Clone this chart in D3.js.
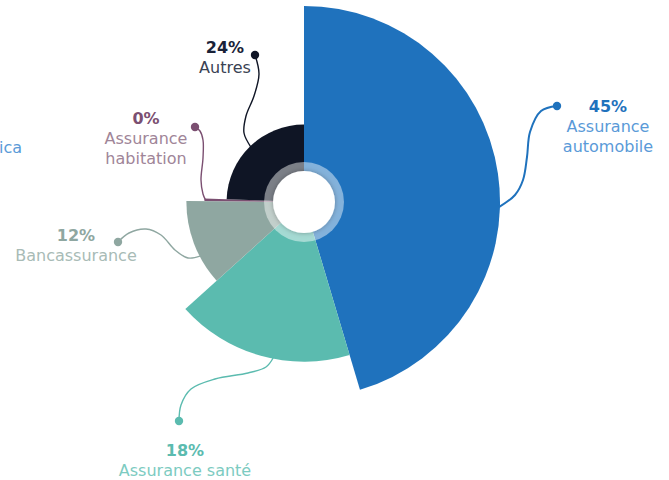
<!DOCTYPE html>
<html><head><meta charset="utf-8">
<script src="https://cdn.jsdelivr.net/npm/d3@7"></script>
<style>
html,body{margin:0;padding:0;background:#fff;}
svg{display:block;}
text{font-family:"DejaVu Sans",sans-serif;}
</style></head>
<body>
<svg id="chart" width="669" height="480"></svg>
<script>
// ---- data ----
const categories = ["Assurance automobile", "Assurance santé", "Bancassurance", "Assurance habitation", "Autres"];
const shares = [45.3, 17.9, 11.8, 0.4, 24.4];          // angular share (%)
const radiusValues = [100, 81.5, 60, 50.8, 39.5];      // radial magnitude
const sliceColors = ["#1f72bd", "#5bbbaf", "#8fa7a1", "#7b4f71", "#0f1525"];
const pctColors = ["#1f72bd", "#5bbbaf", "#8fa7a1", "#7b4f71", "#1a2238"];
const nameColors = ["#5a9ad8", "#7ccbc1", "#a8bbb6", "#a08598", "#3a4253"];
const nameLines = [["Assurance", "automobile"], ["Assurance santé"], ["Bancassurance"], ["Assurance", "habitation"], ["Autres"]];

// ---- layout (label placement, not data) ----
const cx = 304, cy = 202;
const labelLayout = [
  {frac: 0.56, tx: 608, ty: 112, path: [[515,195],[523,180],[527,157],[530,132],[541,111],[557,106]]},
  {frac: 0.43, tx: 185, ty: 456, path: [[266,367],[248,373],[215,379],[191,389],[181,405],[179,421]]},
  {frac: 0.34, tx: 76,  ty: 241, path: [[188,258],[175,250],[161,235],[146,229],[129,233],[118,242]]},
  {frac: 0.5,  tx: 146, ty: 124, path: [[203,194],[201,180],[203,158],[203,140],[200,131],[195,127]]},
  {frac: 0.5,  tx: 225, ty: 53,  path: [[244,133],[246,116],[254,96],[259,74],[255,55]]}
];

const svg = d3.select("#chart");
const g = svg.append("g").attr("transform", `translate(${cx},${cy})`);

const rScale = d3.scaleLinear().domain([0, d3.max(radiusValues)]).range([0, 196]);
const pie = d3.pie().sort(null).value(d => d.share);
const data = categories.map((c, i) => ({cat: c, share: shares[i], rv: radiusValues[i], i}));
const arcs = pie(data);

const defs = svg.append("defs");
const f = defs.append("filter").attr("id", "glow").attr("x", "-50%").attr("y", "-50%").attr("width", "200%").attr("height", "200%");
f.append("feGaussianBlur").attr("stdDeviation", 0.7);
const sh = defs.append("filter").attr("id", "shadow").attr("x", "-50%").attr("y", "-50%").attr("width", "200%").attr("height", "200%");
sh.append("feDropShadow").attr("dx", 0).attr("dy", 0).attr("stdDeviation", 2.5).attr("flood-color", "#000").attr("flood-opacity", 0.3);

// leader lines (under slices)
const line = d3.line().curve(d3.curveCatmullRom.alpha(0.5));
arcs.forEach((a, k) => {
  const L = labelLayout[k];
  const ang = a.startAngle + (a.endAngle - a.startAngle) * L.frac;
  const r = rScale(a.data.rv) - 1;
  const p0 = [cx + r * Math.sin(ang), cy - r * Math.cos(ang)];
  const pts = [p0].concat(L.path);
  svg.append("path").attr("d", line(pts)).attr("fill", "none")
    .attr("stroke", sliceColors[k]).attr("stroke-width", k === 0 ? 2 : 1.4);
  const end = L.path[L.path.length - 1];
  svg.append("circle").attr("cx", end[0]).attr("cy", end[1]).attr("r", 4.2).attr("fill", sliceColors[k]);
});

// slices
g.selectAll("path.slice").data(arcs).join("path").attr("class", "slice")
  .attr("d", d => d3.arc().innerRadius(0).outerRadius(rScale(d.data.rv))(d))
  .attr("fill", d => sliceColors[d.data.i]);

// center hole with translucent ring
g.append("circle").attr("r", 40).attr("fill", "#fff").attr("fill-opacity", 0.45).attr("filter", "url(#glow)");
g.append("circle").attr("r", 31).attr("fill", "#fff").attr("filter", "url(#shadow)");

// labels
arcs.forEach((a, k) => {
  const L = labelLayout[k];
  const t = svg.append("text").attr("text-anchor", "middle").attr("font-size", 16);
  t.append("tspan").attr("x", L.tx).attr("y", L.ty).attr("fill", pctColors[k]).attr("font-weight", 600)
    .text(Math.round(a.data.share) + "%");
  nameLines[k].forEach((s, j) => {
    t.append("tspan").attr("x", L.tx).attr("y", L.ty + 20 * (j + 1)).attr("fill", nameColors[k]).attr("font-weight", 400).text(s);
  });
});

// clipped label from the edge
svg.append("text").attr("x", 22).attr("y", 153).attr("text-anchor", "end").attr("font-size", 16)
  .attr("font-weight", 400).attr("fill", "#5a9ad8").text("ica");
</script>
</body></html>
